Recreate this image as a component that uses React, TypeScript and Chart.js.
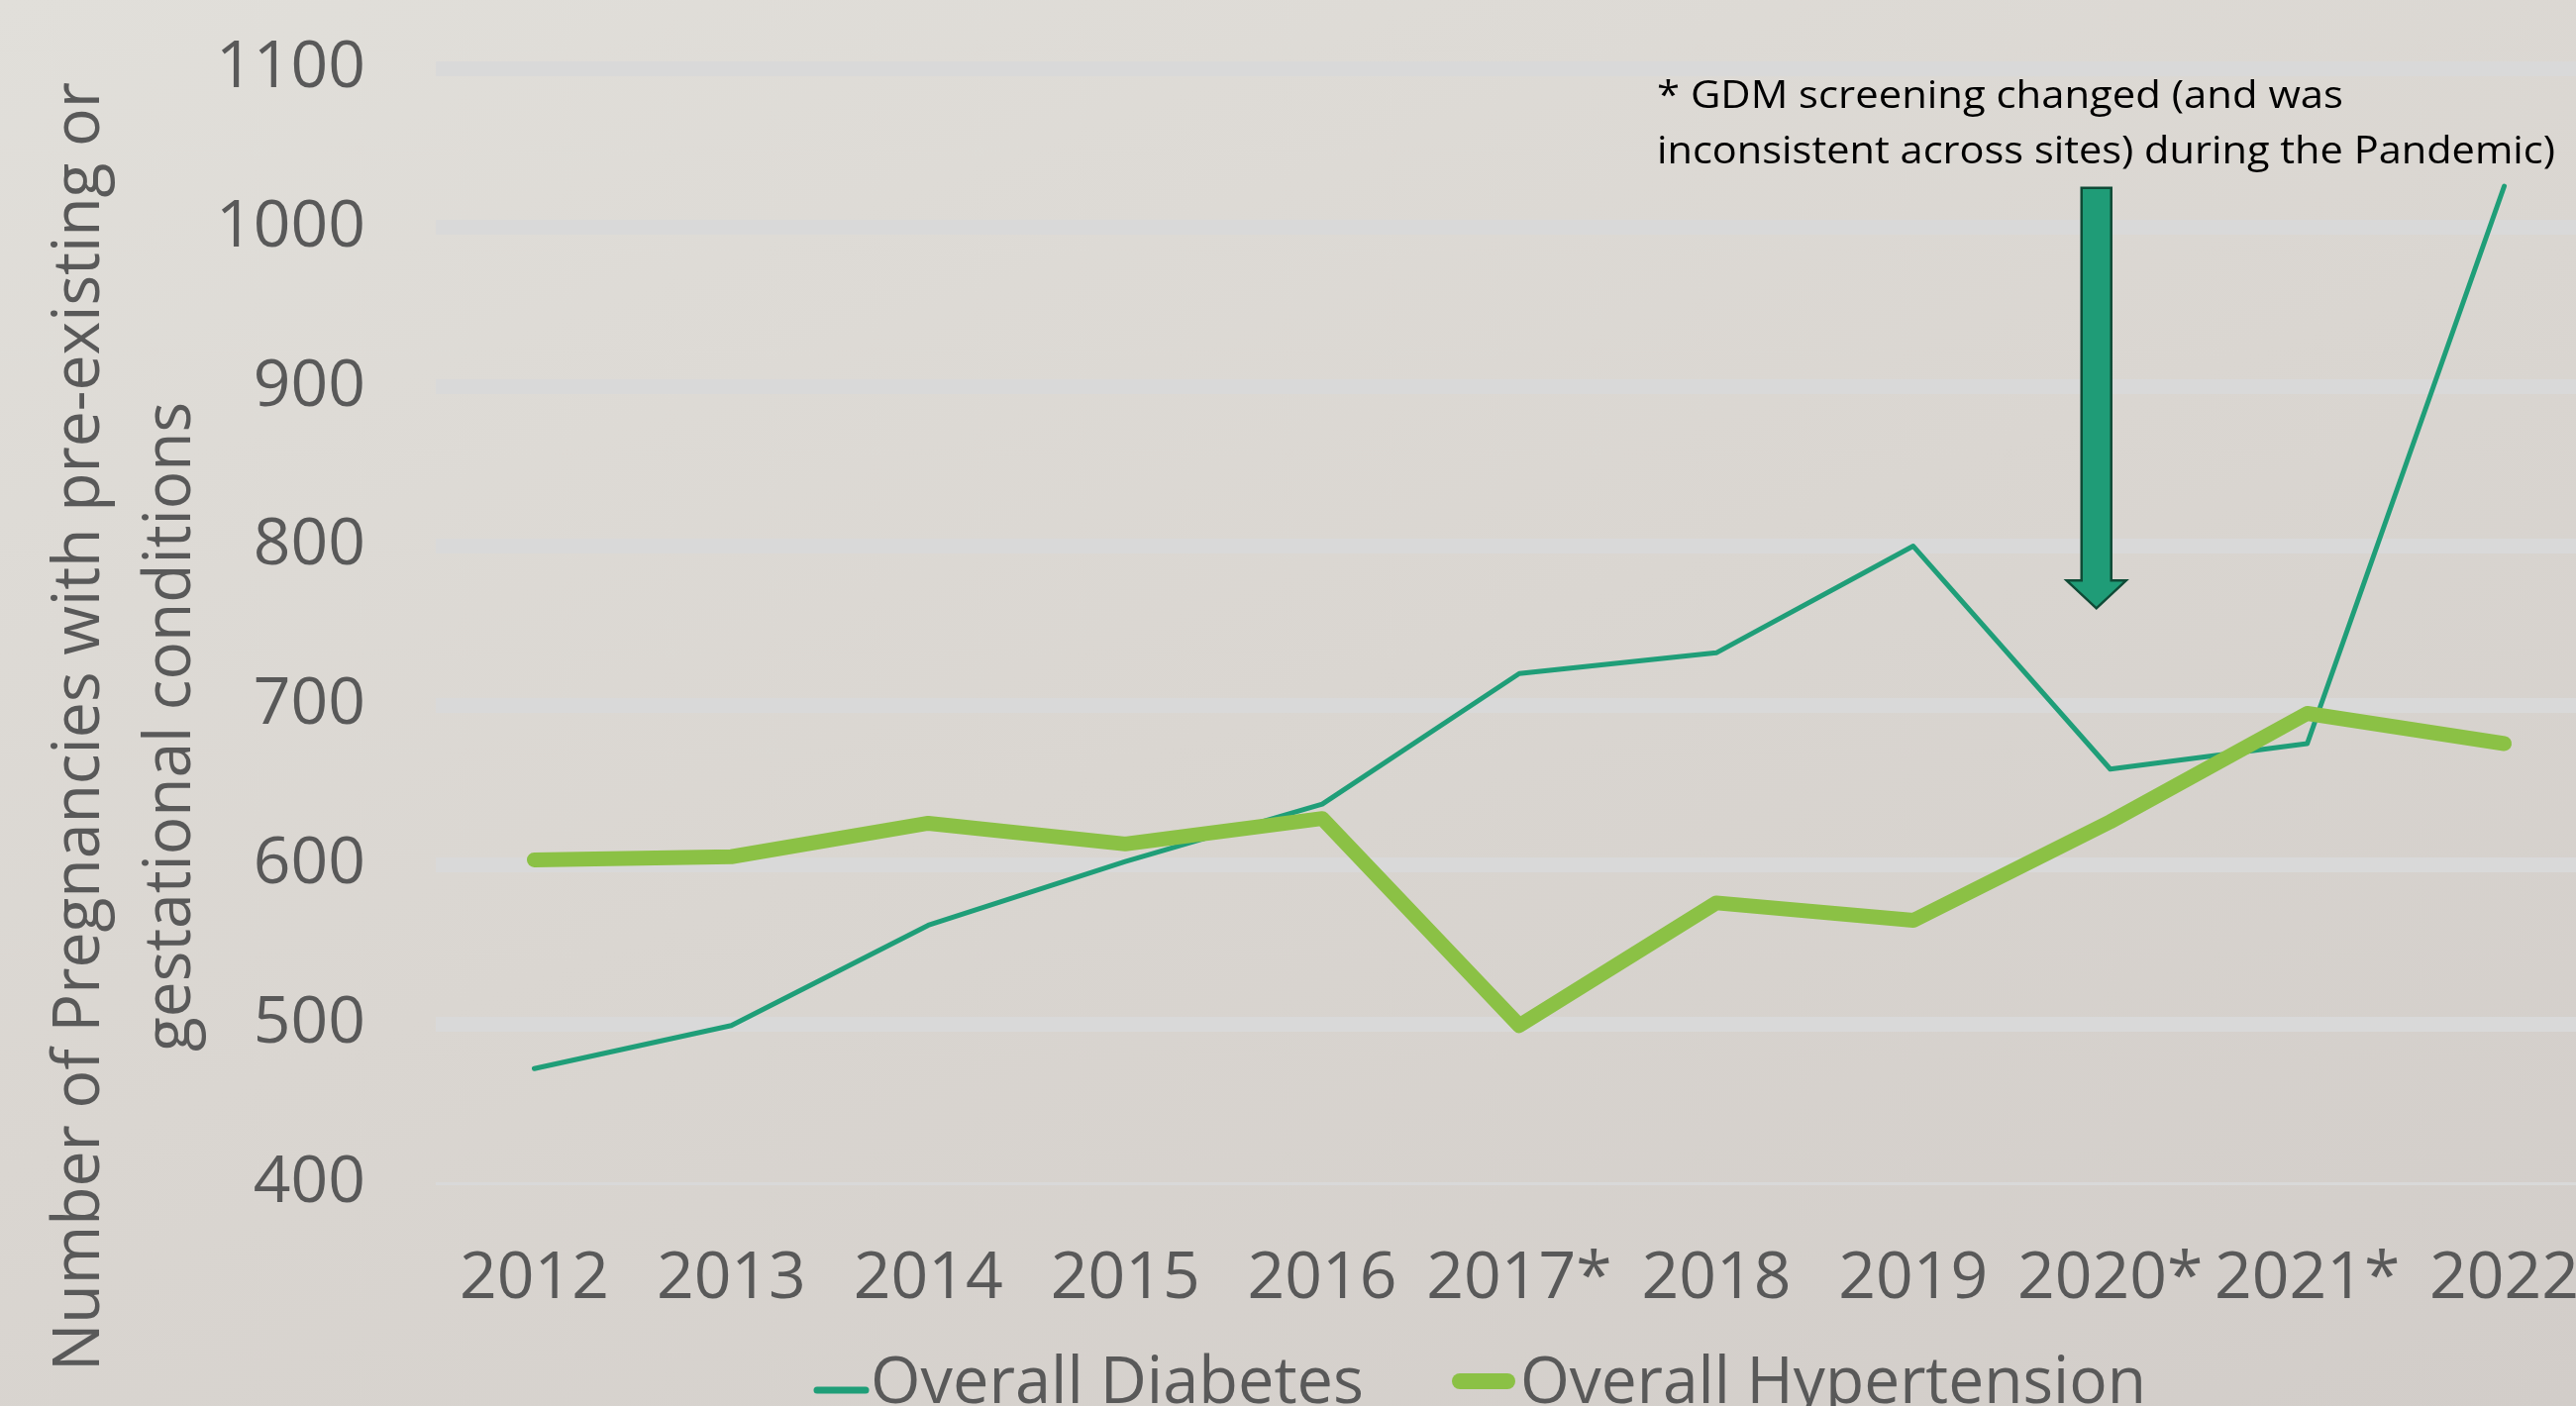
import React, { useEffect, useRef } from "react";
import { Chart, registerables } from "chart.js";

Chart.register(...registerables);

// ---- data ----
const categories = ["2012", "2013", "2014", "2015", "2016", "2017*", "2018", "2019", "2020*", "2021*", "2022"];
const diabetes = [472, 499, 562, 602, 638, 720, 733, 800, 660, 676, 1026];
const hypertension = [603, 605, 626, 613, 629, 499, 576, 565, 627, 695, 676];
const seriesLabels = ["Overall Diabetes", "Overall Hypertension"];
const yMin = 400;
const yMax = 1100;
const yStep = 100;
const yTitleLines = ["Number of Pregnancies with pre-existing or", "gestational conditions"];
const noteLines = ["* GDM screening changed (and was", "inconsistent across sites) during the Pandemic)"];
// arrow annotation: points at 2020*, from value to value
const arrowCategory = 8;
const arrowFrom = 1025;
const arrowTo = 761;

const DIAB_COLOR = "#1f9e78";
const HYP_COLOR = "#8bc145";
const TEXT_GREY = "#595959";
const FONT = '"Open Sans", "Noto Sans", sans-serif';

const W = 2640;
const H = 1420;

function fitText(
  ctx: CanvasRenderingContext2D,
  text: string,
  x: number,
  y: number,
  font: string,
  color: string,
  targetWidth?: number,
  align: CanvasTextAlign = "left"
) {
  ctx.save();
  ctx.font = font;
  ctx.fillStyle = color;
  ctx.textBaseline = "alphabetic";
  ctx.textAlign = align;
  const m = ctx.measureText(text).width;
  const sx = targetWidth ? targetWidth / m : 1;
  ctx.translate(x, y);
  ctx.scale(sx, 1);
  ctx.fillText(text, 0, 0);
  ctx.restore();
}

const decorPlugin = {
  id: "decor",
  afterDraw(chart: any) {
    const ctx: CanvasRenderingContext2D = chart.ctx;
    const xs = chart.scales.x;
    const ys = chart.scales.y;

    // y-axis title (rotated, two lines)
    const titleFont = `66px ${FONT}`;
    const titleCenterY = 734;
    const baselines = [100, 192];
    const widths = [1302, 656];
    yTitleLines.forEach((line, i) => {
      ctx.save();
      ctx.translate(baselines[i], titleCenterY);
      ctx.rotate(-Math.PI / 2);
      fitText(ctx, line, 0, 0, titleFont, TEXT_GREY, widths[i], "center");
      ctx.restore();
    });

    // legend
    const legendY = 1401;
    ctx.save();
    ctx.lineCap = "round";
    ctx.strokeStyle = DIAB_COLOR;
    ctx.lineWidth = 7;
    ctx.beginPath();
    ctx.moveTo(825, legendY + 3);
    ctx.lineTo(874, legendY + 3);
    ctx.stroke();
    ctx.strokeStyle = HYP_COLOR;
    ctx.lineWidth = 16;
    ctx.beginPath();
    ctx.moveTo(1474, legendY - 6);
    ctx.lineTo(1522, legendY - 6);
    ctx.stroke();
    ctx.restore();
    fitText(ctx, seriesLabels[0], 879, 1417, `66px ${FONT}`, TEXT_GREY, 498);
    fitText(ctx, seriesLabels[1], 1535, 1417, `66px ${FONT}`, TEXT_GREY, 632);

    // note text
    fitText(ctx, noteLines[0], 1673, 109, `38px ${FONT}`, "#000000", 693);
    fitText(ctx, noteLines[1], 1673, 165, `38px ${FONT}`, "#000000", 907);

    // arrow
    const cx = xs.getPixelForValue(arrowCategory) - 14;
    const top = ys.getPixelForValue(arrowFrom);
    const tip = ys.getPixelForValue(arrowTo);
    const headH = 28;
    const shaftHalf = 15;
    const headHalf = 30;
    ctx.save();
    ctx.beginPath();
    ctx.moveTo(cx - shaftHalf, top);
    ctx.lineTo(cx + shaftHalf, top);
    ctx.lineTo(cx + shaftHalf, tip - headH);
    ctx.lineTo(cx + headHalf, tip - headH);
    ctx.lineTo(cx, tip);
    ctx.lineTo(cx - headHalf, tip - headH);
    ctx.lineTo(cx - shaftHalf, tip - headH);
    ctx.closePath();
    ctx.fillStyle = "#1f9c77";
    ctx.fill();
    ctx.lineWidth = 2.5;
    ctx.strokeStyle = "#0f4a36";
    ctx.lineJoin = "miter";
    ctx.stroke();
    ctx.restore();
  },
};

function LineChart() {
  const ref = useRef<HTMLCanvasElement | null>(null);

  useEffect(() => {
    let chart: Chart | null = null;
    let cancelled = false;
    const build = () => {
      if (cancelled || !ref.current) return;
      chart = new Chart(ref.current, {
        type: "line",
        data: {
          labels: categories,
          datasets: [
            {
              label: seriesLabels[0],
              data: diabetes,
              borderColor: DIAB_COLOR,
              backgroundColor: DIAB_COLOR,
              borderWidth: 5,
              pointRadius: 0,
              tension: 0,
              borderCapStyle: "round",
              borderJoinStyle: "round",
              order: 2,
            },
            {
              label: seriesLabels[1],
              data: hypertension,
              borderColor: HYP_COLOR,
              backgroundColor: HYP_COLOR,
              borderWidth: 15,
              pointRadius: 0,
              tension: 0,
              borderCapStyle: "round",
              borderJoinStyle: "round",
              order: 1,
            },
          ],
        },
        options: {
          animation: false,
          responsive: false,
          devicePixelRatio: 1,
          layout: { padding: { top: 69, left: 0, right: 12, bottom: 0 } },
          plugins: {
            legend: { display: false },
            tooltip: { enabled: false },
            title: { display: false },
          },
          scales: {
            x: {
              type: "category",
              offset: true,
              grid: { display: false, drawTicks: false },
              border: { display: false },
              ticks: {
                color: TEXT_GREY,
                font: { family: FONT, size: 66 },
                padding: 58,
                maxRotation: 0,
                autoSkip: false,
              },
              afterFit: (s: any) => {
                s.height = 225;
                s.paddingLeft = 0;
                s.paddingRight = 0;
              },
            },
            y: {
              min: yMin,
              max: yMax,
              ticks: {
                stepSize: yStep,
                color: TEXT_GREY,
                font: { family: FONT, size: 66 },
                padding: 71,
                callback: (v: any) => String(v),
              },
              grid: {
                drawTicks: false,
                color: "#d9d9d9",
                lineWidth: (c: any) => (c.tick && c.tick.value === yMin ? 3 : 15),
              },
              border: { display: false },
              afterFit: (s: any) => {
                s.width = 440;
                s.paddingTop = 0;
                s.paddingBottom = 0;
              },
            },
          },
        },
        plugins: [decorPlugin],
      } as any);
    };
    const fontsApi = (document as any).fonts;
    if (fontsApi && fontsApi.load) {
      Promise.all([fontsApi.load(`66px "Open Sans"`), fontsApi.load(`38px "Open Sans"`)])
        .catch(() => null)
        .then(build);
    } else {
      build();
    }
    return () => {
      cancelled = true;
      if (chart) chart.destroy();
    };
  }, []);

  return <canvas ref={ref} width={W} height={H} style={{ display: "block", width: W, height: H }} />;
}

export default function App() {
  return (
    <div
      style={{
        position: "fixed",
        left: 0,
        top: 0,
        width: 2601,
        height: 1420,
        overflow: "hidden",
        background: "linear-gradient(160deg, #e1dfda 0%, #dad6d1 50%, #d2cdc9 100%)",
      }}
    >
      <LineChart />
    </div>
  );
}
